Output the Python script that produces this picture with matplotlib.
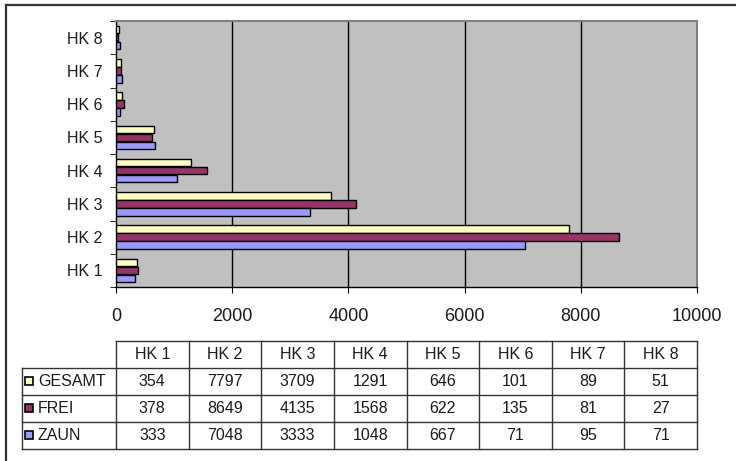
import numpy as np
import matplotlib.pyplot as plt
from matplotlib.patches import Rectangle

plt.rcParams["font.family"] = ["Liberation Sans", "DejaVu Sans"]

categories = ["HK 1", "HK 2", "HK 3", "HK 4", "HK 5", "HK 6", "HK 7", "HK 8"]
gesamt = [354, 7797, 3709, 1291, 646, 101, 89, 51]
frei = [378, 8649, 4135, 1568, 622, 135, 81, 27]
zaun = [333, 7048, 3333, 1048, 667, 71, 95, 71]

series = [("GESAMT", gesamt, "#FFFFC0"),
          ("FREI", frei, "#993366"),
          ("ZAUN", zaun, "#9999FF")]

W, H = 736, 461
fig = plt.figure(figsize=(W / 100, H / 100), dpi=100)

# overlay in pixel coordinates for the frame and the data table
ov = fig.add_axes([0, 0, 1, 1])
ov.set_xlim(0, W)
ov.set_ylim(H, 0)
ov.axis("off")
ov.plot([6, W + 5], [5, 5], color="#333333", lw=1.6)
ov.plot([6, 6], [5, H + 5], color="#333333", lw=1.6)

# bar chart area
px_l, px_r, px_t, px_b = 116, 697, 21, 287
ax = fig.add_axes([px_l / W, (H - px_b) / H, (px_r - px_l) / W, (px_b - px_t) / H])
ax.set_facecolor("#C0C0C0")
ax.set_zorder(2)

y = np.arange(len(categories))
h = 0.22
offsets = [0.24, 0.0, -0.24]
for (name, vals, col), off in zip(series, offsets):
    ax.barh(y + off, vals, height=h, color=col, edgecolor="black", linewidth=1, zorder=3)

ax.set_xlim(0, 10000)
ax.set_ylim(-0.5, len(categories) - 0.5)
ax.set_xticks(np.arange(0, 10001, 2000))
for gx in range(2000, 10000, 2000):
    ax.axvline(gx, color="black", lw=1, zorder=1)

ax.set_yticks(y)
ax.set_yticklabels(categories)
ax.set_yticks(np.arange(-0.5, len(categories), 1.0), minor=True)
ax.tick_params(axis="y", which="major", length=0, pad=9.5, labelsize=11.5, labelcolor="#1a1a1a")
ax.tick_params(axis="y", which="minor", length=4, direction="out", color="black")
ax.tick_params(axis="x", length=4, direction="out", pad=11, labelsize=13, labelcolor="#1a1a1a")

for s in ["top", "right"]:
    ax.spines[s].set_color("#808080")
    ax.spines[s].set_linewidth(1.5)
for s in ["left", "bottom"]:
    ax.spines[s].set_color("black")
    ax.spines[s].set_linewidth(1)

# data table under the chart
rows_y = [341, 368, 395, 422, 449]
col_w = (px_r - px_l) / len(categories)
col_x = [px_l + i * col_w for i in range(len(categories) + 1)]
lab_l = 22
lc = "#333333"

# horizontal lines
ov.plot([px_l, px_r], [rows_y[0], rows_y[0]], color=lc, lw=1)
for ry in rows_y[1:]:
    ov.plot([lab_l, px_r], [ry, ry], color=lc, lw=1)
# vertical lines
for cx in col_x:
    ov.plot([cx, cx], [rows_y[0], rows_y[-1]], color=lc, lw=1)
ov.plot([lab_l, lab_l], [rows_y[1], rows_y[-1]], color=lc, lw=1)

fs = 11.5
for i, cat in enumerate(categories):
    cx = (col_x[i] + col_x[i + 1]) / 2
    ov.text(cx, (rows_y[0] + rows_y[1]) / 2, cat, ha="center", va="center",
            fontsize=fs, color="#1a1a1a")
for r, (name, vals, col) in enumerate(series):
    cy = (rows_y[r + 1] + rows_y[r + 2]) / 2
    ov.add_patch(Rectangle((25, cy - 5), 8, 8, facecolor=col, edgecolor="black", lw=1.2))
    ov.text(38, cy, name, ha="left", va="center", fontsize=fs, color="#1a1a1a")
    for i, v in enumerate(vals):
        cx = (col_x[i] + col_x[i + 1]) / 2
        ov.text(cx, cy, str(v), ha="center", va="center", fontsize=fs, color="#1a1a1a")

fig.savefig("out.png", dpi=100)
